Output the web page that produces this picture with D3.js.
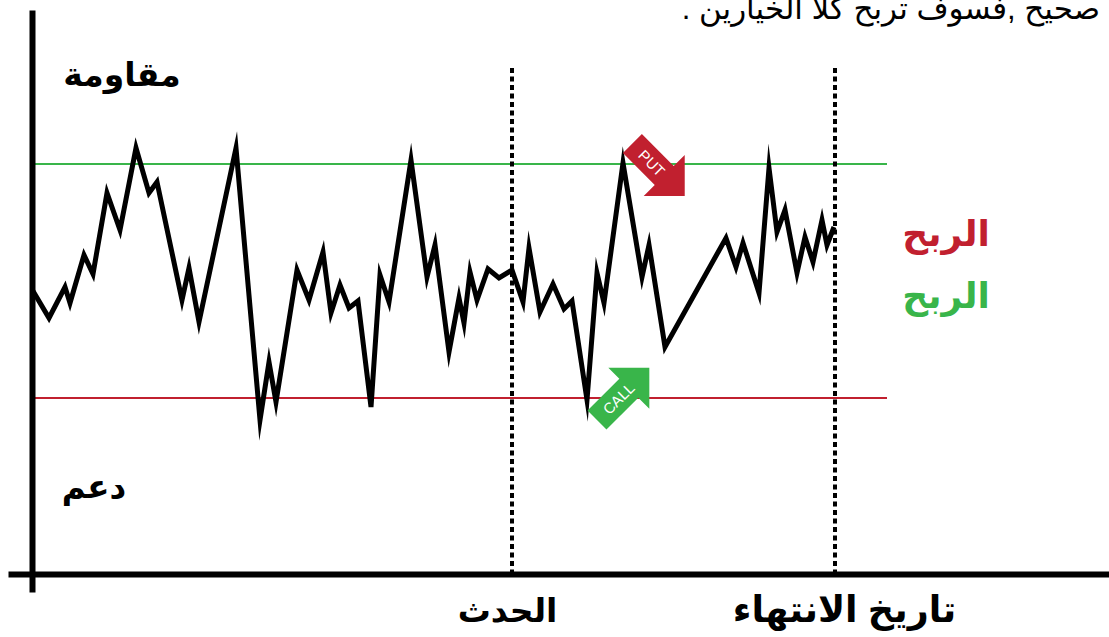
<!DOCTYPE html>
<html>
<head>
<meta charset="utf-8">
<script src="https://cdn.jsdelivr.net/npm/d3@7"></script>
<style>
  html, body { margin: 0; padding: 0; background: #fff; overflow: hidden; }
  svg { display: block; }
  .ar { font-family: "Liberation Sans", "DejaVu Sans", sans-serif; }
</style>
</head>
<body>
<div id="chart"></div>
<script>
// price path
const times = [0.25, 4.25, 8.25, 9.5, 13, 15.25, 18.75, 22, 26, 29.25, 31.25, 37.5, 39.25, 41.75, 51, 57, 59.25, 61, 66.25, 69.25, 72.75, 74.75, 77, 79.25, 81.5, 84.75,
  87, 89.25, 94.75, 98.75, 100.75, 104.25, 106.75, 108, 109.5, 111.25, 114, 116.75, 120, 122.75, 124.25, 127, 130.25, 133, 135, 138.75,
  141.25, 143, 147.75, 152.5, 154.25, 158.25, 173.5, 176, 177.75, 181.75, 184.25, 186.25, 188.25, 191.25, 193.25, 195.25, 197.5, 198.75, 200.5];
const prices = [70.75, 64, 71.75, 67.75, 79.75, 75, 95.25, 86, 106.5, 95.25, 98, 68.5, 76.5, 63, 106.5, 38.5, 53, 43, 76, 68.5, 80.5, 65.25, 72.25, 66.5, 68.25, 41.75,
  74.75, 68, 103.5, 74.25, 82.25, 55.5, 69, 62.75, 75.5, 68.5, 76.25, 74, 76, 68, 81.5, 65.5, 72.5, 66.25, 68.25, 43.5,
  75.25, 67.75, 102.75, 74.25, 82.25, 56.75, 84, 76.75, 82.75, 70.25, 101.5, 85.5, 91, 75.25, 84.25, 78, 88.5, 82.25, 86.75];

const resistance = 102.5;
const support = 44;
const eventTime = 120;
const expiryTime = 200.75;
const lineEnd = 213.75;
const xLabels = ["الحدث", "تاريخ الانتهاء"];

const arrowNames = ["PUT", "CALL"];
const arrowTimes = [150.1, 141.25];
const arrowPrices = [107.6, 38.5];

const w = 1109;
const h = 637;
const green = "#39b54a";
const red = "#c1202f";

const xScale = d3.scaleLinear().domain([-6, 269.25]).range([8, 1109]);
const yScale = d3.scaleLinear().domain([-4.5, 141]).range([592, 10]);

const svg = d3.select("#chart").append("svg")
  .attr("width", w)
  .attr("height", h);

// support and resistance
svg.selectAll(".level")
  .data([[resistance, green], [support, red]])
  .enter()
  .append("line")
  .attr("class", "level")
  .attr("x1", xScale(0))
  .attr("x2", xScale(lineEnd))
  .attr("y1", d => yScale(d[0]))
  .attr("y2", d => yScale(d[0]))
  .attr("stroke", d => d[1])
  .attr("stroke-width", 2);

// event and expiry
svg.selectAll(".marker")
  .data([eventTime, expiryTime])
  .enter()
  .append("line")
  .attr("class", "marker")
  .attr("x1", d => xScale(d))
  .attr("x2", d => xScale(d))
  .attr("y1", 68)
  .attr("y2", yScale(0))
  .attr("stroke", "#000")
  .attr("stroke-width", 4)
  .attr("stroke-dasharray", "5,3.5");

const line = d3.line()
  .x(d => xScale(d[0]))
  .y(d => yScale(d[1]));

svg.append("path")
  .attr("d", line(d3.zip(times, prices)))
  .attr("fill", "none")
  .attr("stroke", "#000")
  .attr("stroke-width", 5)
  .attr("stroke-linejoin", "miter")
  .attr("stroke-miterlimit", 10);

// arrows, drawn pointing right and then turned
const arrowShape = [[0, -13.4], [45, -13.4], [45, -29], [74, 0], [45, 29], [45, 13.4], [0, 13.4]];
const arrows = svg.selectAll(".arrow")
  .data(arrowNames)
  .enter()
  .append("g")
  .attr("class", "arrow")
  .attr("transform", (d, i) => `translate(${xScale(arrowTimes[i])},${yScale(arrowPrices[i])}) rotate(${i === 0 ? 45 : -45})`);
arrows.append("polygon")
  .attr("points", arrowShape.join(" "))
  .attr("fill", (d, i) => i === 0 ? red : green);
arrows.append("text")
  .attr("x", (d, i) => i === 0 ? 27.5 : 30.5)
  .attr("y", 5.5)
  .attr("text-anchor", "middle")
  .attr("fill", "#fff")
  .style("font-family", "'Liberation Sans', sans-serif")
  .style("font-size", "15px")
  .text(d => d);

// axes
const xAxis = d3.axisBottom(xScale)
  .tickValues([eventTime, expiryTime])
  .tickSize(0)
  .tickFormat((d, i) => xLabels[i]);
const yAxis = d3.axisLeft(yScale)
  .tickValues([])
  .tickSize(0);

const gx = svg.append("g")
  .attr("transform", "translate(0," + yScale(0) + ")")
  .call(xAxis);
gx.select(".domain").attr("stroke", "#000").attr("stroke-width", 6);
gx.selectAll("text")
  .attr("class", "ar")
  .attr("y", 48)
  .attr("dy", 0)
  .attr("dx", (d, i) => i === 0 ? -5 : 9)
  .style("font-size", (d, i) => i === 0 ? "33px" : "36.5px")
  .style("font-weight", "bold")
  .attr("fill", "#000");

svg.append("g")
  .attr("transform", "translate(" + xScale(0) + ",0)")
  .call(yAxis)
  .select(".domain").attr("stroke", "#000").attr("stroke-width", 6);

// labels
const labels = [
  ["مقاومة", 122, 86, 33, "bold", "#000"],
  ["دعم", 94, 498, 32.5, "bold", "#000"],
  ["الربح", 946, 246, 36, "bold", red],
  ["الربح", 946, 308, 36, "bold", green]
];
svg.selectAll(".label")
  .data(labels)
  .enter()
  .append("text")
  .attr("class", "label ar")
  .attr("x", d => d[1])
  .attr("y", d => d[2])
  .attr("text-anchor", "middle")
  .attr("direction", "rtl")
  .style("font-size", d => d[3] + "px")
  .style("font-weight", d => d[4])
  .attr("fill", d => d[5])
  .text(d => d[0]);

svg.append("text")
  .attr("class", "ar")
  .attr("x", 1100)
  .attr("y", 19)
  .attr("direction", "rtl")
  .style("font-size", "31px")
  .attr("fill", "#000")
  .text("صحيح ,فسوف تربح كلا الخيارين .");
</script>
</body>
</html>
